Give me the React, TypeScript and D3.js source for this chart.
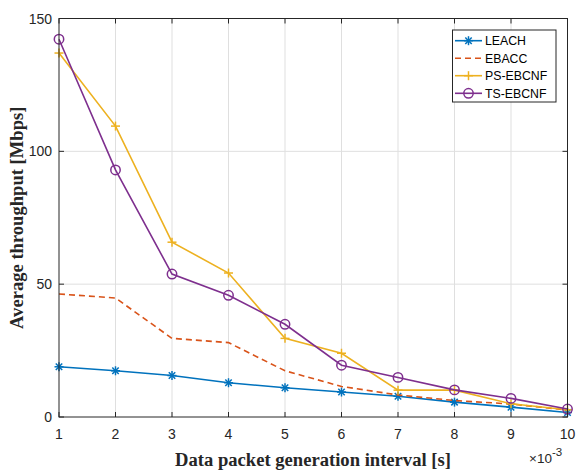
import React from "react";
import * as d3 from "d3";

const xValues = [1, 2, 3, 4, 5, 6, 7, 8, 9, 10];
const leach = [18.9, 17.4, 15.6, 12.9, 11.0, 9.4, 7.8, 5.6, 3.7, 1.7];
const ebacc = [46.3, 44.8, 29.6, 28.0, 17.4, 11.5, 8.3, 6.2, 4.9, 2.6];
const psEbcnf = [137, 109.5, 65.8, 54.2, 29.6, 24.0, 10.1, 10.1, 5.0, 2.7];
const tsEbcnf = [142.2, 93, 53.8, 45.8, 34.9, 19.5, 14.9, 10.2, 7.0, 3.0];
const yTicks = [0, 50, 100, 150];
const seriesNames = ["LEACH", "EBACC", "PS-EBCNF", "TS-EBCNF"];

const W = 576, H = 471;
const L = 59, R = 567.5, T = 18.5, B = 417;

const colors = ["#0072BD", "#D95319", "#EDB120", "#7E2F8E"];
const markers = ["star", "none", "plus", "circle"];
const dashes = [undefined, "6,4", undefined, undefined];

function Marker({ type, x, y, color }: { type: string; x: number; y: number; color: string }) {
  const s = 4.5;
  if (type === "star") {
    const d = s * 0.72;
    return (
      <g stroke={color} strokeWidth={1.5} fill="none">
        <line x1={x - s} y1={y} x2={x + s} y2={y} />
        <line x1={x} y1={y - s} x2={x} y2={y + s} />
        <line x1={x - d} y1={y - d} x2={x + d} y2={y + d} />
        <line x1={x - d} y1={y + d} x2={x + d} y2={y - d} />
      </g>
    );
  }
  if (type === "plus") {
    return (
      <g stroke={color} strokeWidth={1.5} fill="none">
        <line x1={x - s} y1={y} x2={x + s} y2={y} />
        <line x1={x} y1={y - s} x2={x} y2={y + s} />
      </g>
    );
  }
  if (type === "circle") {
    return <circle cx={x} cy={y} r={4.7} stroke={color} strokeWidth={1.5} fill="none" />;
  }
  return null;
}

export default function App() {
  const x = d3.scaleLinear().domain([1, 10]).range([L, R]);
  const y = d3.scaleLinear().domain([0, 150]).range([B, T]);
  const data = [leach, ebacc, psEbcnf, tsEbcnf];
  const line = d3
    .line<number>()
    .x((_, i) => x(xValues[i]))
    .y((d) => y(d));

  const tickFont = "'Liberation Sans', Arial, sans-serif";
  const serif = "'Liberation Serif', 'Times New Roman', serif";

  const legX = 452.5, legY = 30, legW = 103.5, legH = 72;
  const legRows = [40.7, 58.3, 75.7, 93.3];

  return (
    <svg width={W} height={H} style={{ position: "absolute", left: 0, top: 0 }}>
      <rect x={0} y={0} width={W} height={H} fill="#fff" />
      {/* grid */}
      <g stroke="#dfdfdf" strokeWidth={1}>
        {xValues.slice(1, -1).map((v) => (
          <line key={"gx" + v} x1={x(v)} x2={x(v)} y1={T} y2={B} />
        ))}
        {yTicks.slice(1, -1).map((v) => (
          <line key={"gy" + v} x1={L} x2={R} y1={y(v)} y2={y(v)} />
        ))}
      </g>
      {/* series */}
      {data.map((d, si) => (
        <g key={si}>
          <path
            d={line(d) || ""}
            fill="none"
            stroke={colors[si]}
            strokeWidth={1.6}
            strokeDasharray={dashes[si]}
          />
          {d.map((v, i) => (
            <Marker key={i} type={markers[si]} x={x(xValues[i])} y={y(v)} color={colors[si]} />
          ))}
        </g>
      ))}
      {/* axes box */}
      <rect x={L} y={T} width={R - L} height={B - T} fill="none" stroke="#262626" strokeWidth={1} />
      <g stroke="#262626" strokeWidth={1}>
        {xValues.map((v) => (
          <g key={"tx" + v}>
            <line x1={x(v)} x2={x(v)} y1={B} y2={B - 5} />
            <line x1={x(v)} x2={x(v)} y1={T} y2={T + 5} />
          </g>
        ))}
        {yTicks.map((v) => (
          <g key={"ty" + v}>
            <line x1={L} x2={L + 5} y1={y(v)} y2={y(v)} />
            <line x1={R} x2={R - 5} y1={y(v)} y2={y(v)} />
          </g>
        ))}
      </g>
      {/* tick labels */}
      <g fontFamily={tickFont} fontSize={14} fill="#262626">
        {xValues.map((v) => (
          <text key={"lx" + v} x={x(v)} y={438.5} textAnchor="middle">
            {v}
          </text>
        ))}
        {yTicks.map((v) => (
          <text key={"ly" + v} x={L - 7} y={y(v) + 5} textAnchor="end">
            {v}
          </text>
        ))}
        <text x={529} y={463} fontSize={13.5}>
          ×10
          <tspan dy={-7} fontSize={11.5}>
            -3
          </tspan>
        </text>
      </g>
      {/* axis titles */}
      <text
        x={313}
        y={466}
        textAnchor="middle"
        fontFamily={serif}
        fontWeight="bold"
        fontSize={18.6}
        fill="#262626"
      >
        Data packet generation interval [s]
      </text>
      <text
        transform={`translate(23,${(T + B) / 2}) rotate(-90)`}
        textAnchor="middle"
        fontFamily={serif}
        fontWeight="bold"
        fontSize={18.6}
        fill="#262626"
      >
        Average throughput [Mbps]
      </text>
      {/* legend */}
      <rect x={legX} y={legY} width={legW} height={legH} fill="#fff" stroke="#262626" strokeWidth={1} />
      {seriesNames.map((name, si) => {
        const ly = legRows[si];
        return (
          <g key={name}>
            <line
              x1={455}
              x2={482}
              y1={ly}
              y2={ly}
              stroke={colors[si]}
              strokeWidth={1.6}
              strokeDasharray={dashes[si]}
            />
            <Marker type={markers[si]} x={468.5} y={ly} color={colors[si]} />
            <text x={485} y={ly + 4.3} fontFamily={tickFont} fontSize={12.3} fill="#000">
              {name}
            </text>
          </g>
        );
      })}
    </svg>
  );
}
